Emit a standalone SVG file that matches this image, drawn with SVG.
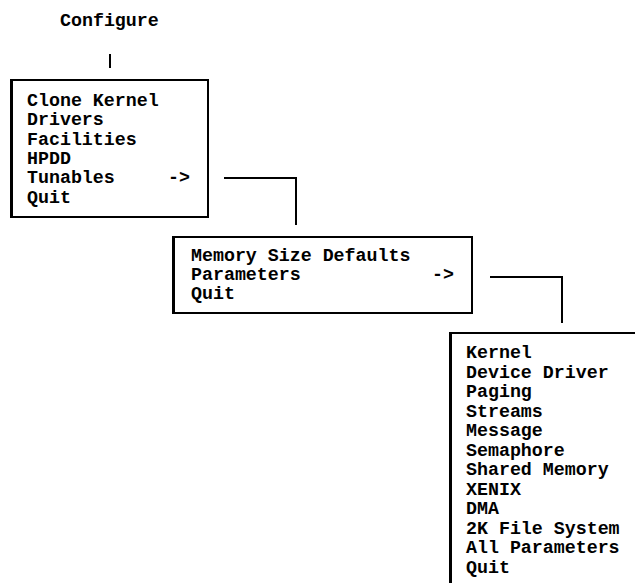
<svg xmlns="http://www.w3.org/2000/svg" width="635" height="583" viewBox="0 0 635 583">
<style>
text{font-family:"Liberation Mono","DejaVu Sans Mono",monospace;font-weight:bold;font-size:18.3px;fill:#000}
.box{fill:#fff;stroke:#000;stroke-width:2}
.edge{stroke:#000;stroke-width:3}
.conn{fill:none;stroke:#000;stroke-width:2}
</style>
<rect width="635" height="583" fill="#fff"/>
<g id="configure">
<text x="60" y="26">Configure</text>
</g>
<g id="main-menu">
<rect class="box" x="11" y="80" width="197" height="137"/>
<line class="edge" x1="11.5" y1="79" x2="11.5" y2="218"/>
<text x="27" y="106">Clone Kernel</text>
<text x="27" y="125.3">Drivers</text>
<text x="27" y="144.6">Facilities</text>
<text x="27" y="163.9">HPDD</text>
<text x="27" y="183.2">Tunables</text>
<text x="168" y="183.2">-&gt;</text>
<text x="27" y="202.5">Quit</text>
</g>
<g id="tunables-menu">
<rect class="box" x="173" y="237" width="299" height="76"/>
<line class="edge" x1="173.5" y1="236" x2="173.5" y2="314"/>
<text x="191" y="260.5">Memory Size Defaults</text>
<text x="191" y="279.8">Parameters</text>
<text x="432" y="279.8">-&gt;</text>
<text x="191" y="299.1">Quit</text>
</g>
<g id="parameters-menu">
<rect class="box" x="450" y="333" width="200" height="270"/>
<line class="edge" x1="450.5" y1="332" x2="450.5" y2="590"/>
<text x="466" y="358">Kernel</text>
<text x="466" y="377.5">Device Driver</text>
<text x="466" y="397">Paging</text>
<text x="466" y="416.5">Streams</text>
<text x="466" y="436">Message</text>
<text x="466" y="455.5">Semaphore</text>
<text x="466" y="475">Shared Memory</text>
<text x="466" y="494.5">XENIX</text>
<text x="466" y="514">DMA</text>
<text x="466" y="533.5">2K File System</text>
<text x="466" y="553">All Parameters</text>
<text x="466" y="572.5">Quit</text>
</g>
<g id="connectors">
<line class="conn" x1="110" y1="54" x2="110" y2="68"/>
<polyline class="conn" points="224,178 296,178 296,225"/>
<polyline class="conn" points="490,277 562,277 562,323"/>
</g>
</svg>
